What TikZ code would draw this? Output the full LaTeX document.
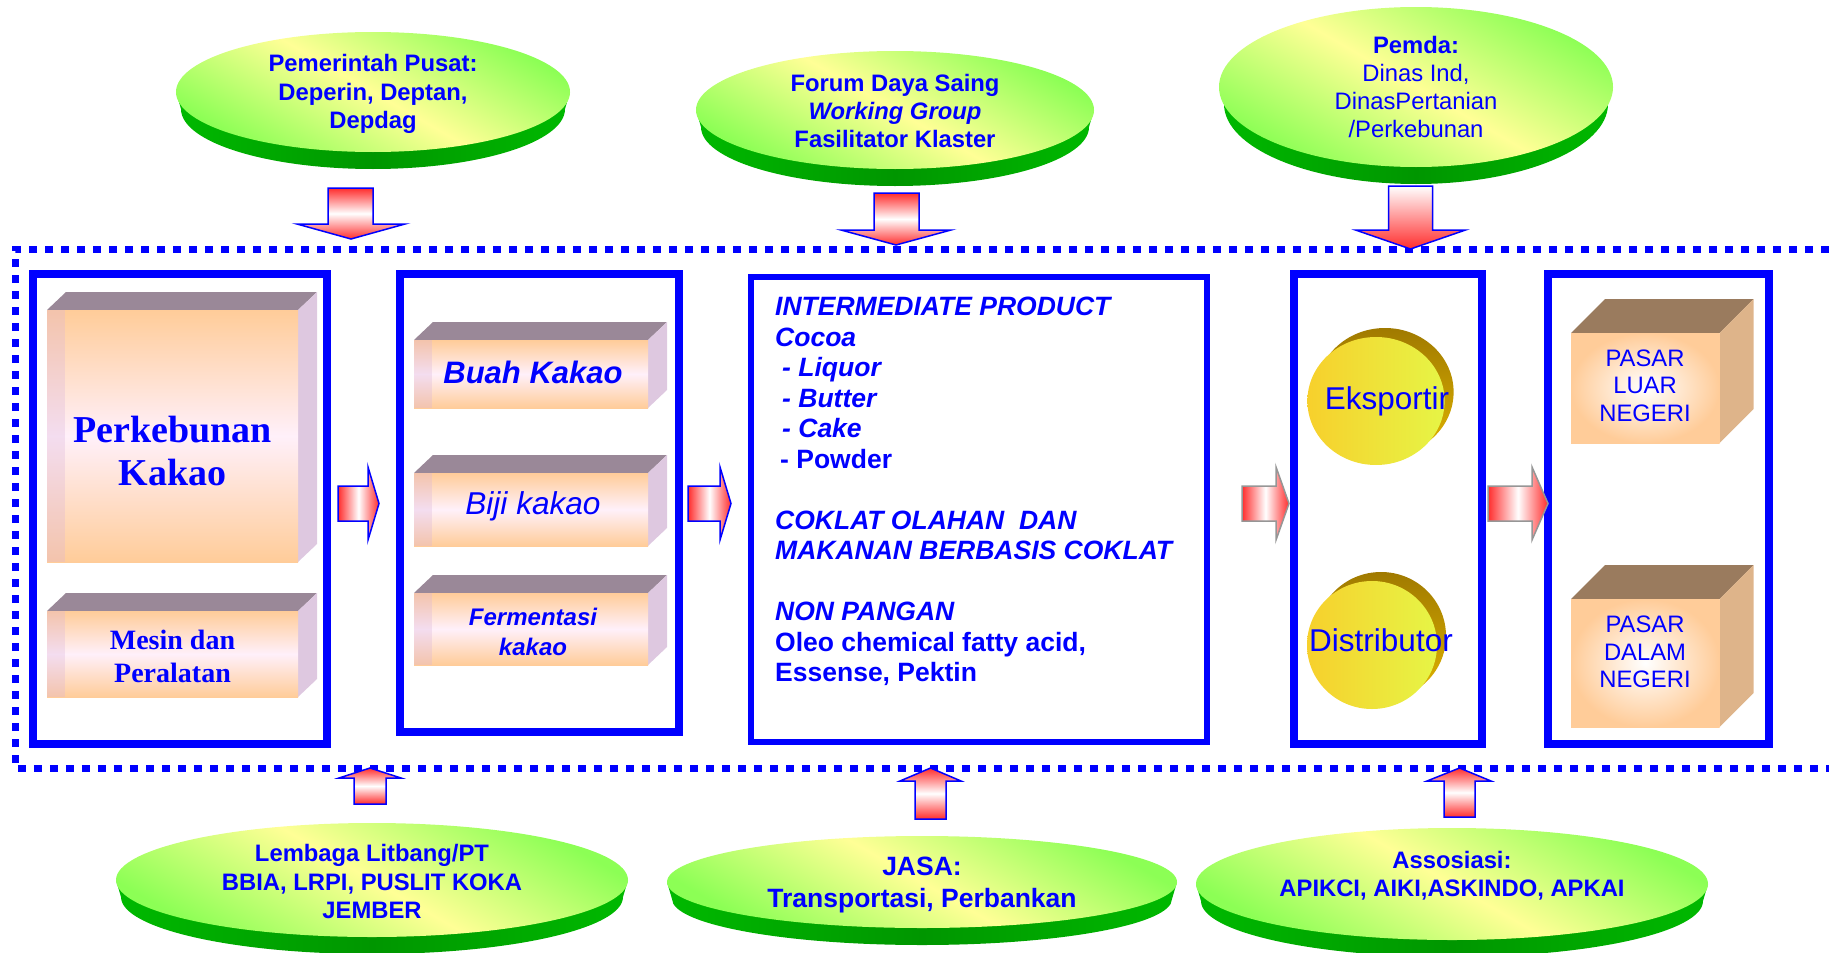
\documentclass[tikz,border=0pt]{standalone}
\usepackage{fontspec}
\setmainfont{Liberation Sans}
\newfontfamily\timesfont{Liberation Serif}
\definecolor{panah}{RGB}{255,45,45}
\definecolor{abu}{RGB}{150,150,150}
\definecolor{hijau}{RGB}{0,185,0}
\definecolor{hijaugelap}{RGB}{0,150,0}
\definecolor{kuning}{RGB}{255,255,150}
\definecolor{hijaumuda}{RGB}{140,255,85}
\definecolor{peach}{RGB}{255,204,153}
\definecolor{pinkputih}{RGB}{255,240,250}
\definecolor{atasblok}{RGB}{154,136,152}
\definecolor{sisiblok}{RGB}{222,200,224}
\definecolor{atasdus}{RGB}{154,123,94}
\definecolor{sisidus}{RGB}{222,180,138}
\definecolor{emas}{RGB}{160,122,0}
\definecolor{emasmuda}{RGB}{225,180,0}
\definecolor{koinkiri}{RGB}{247,208,44}
\definecolor{koinkanan}{RGB}{230,245,70}
\tikzset{
  teks/.style={text=blue, align=center, inner sep=0pt},
  tebal/.style={font=\bfseries\fontsize{23.8}{28.3}\selectfont},
  biasa/.style={font=\fontsize{23.8}{28.3}\selectfont},
  bingkai/.style={draw=blue, line width=8pt, inner sep=0pt},
  titik/.style={draw=blue, line width=7pt, dash pattern=on 8pt off 8pt},
  panahbiru/.style={draw=blue, line width=1.5pt},
  panahabu/.style={draw=abu, line width=1.5pt},
  sisihijau/.style={left color=hijau, right color=hijau, middle color=hijaugelap},
  ataship/.style={top color=hijaumuda, bottom color=hijaumuda, middle color=kuning, shading angle=-30}
}

\begin{document}
\begin{tikzpicture}[x=1pt,y=-1pt]
\useasboundingbox (0,0) rectangle (1829,953);
\clip (0,0) rectangle (1829,953);

% garis titik-titik
\draw [titik] (1845,249)--(15,249)--(15,768)--(1845,768);

% kotak
\node [bingkai, minimum width=294pt, minimum height=470pt] (kotak1) at (180,509) {};
\node [bingkai, minimum width=279pt, minimum height=458pt] (kotak2) at (539.5,503) {};
\node [bingkai, line width=6pt, minimum width=456pt, minimum height=465pt] (kotak3) at (979,509.5) {};
\node [bingkai, minimum width=188pt, minimum height=470pt] (kotak4) at (1388,509) {};
\node [bingkai, minimum width=221pt, minimum height=470pt] (kotak5) at (1658.5,509) {};

% balok
\foreach \xa/\ya/\xb/\yb in {47/310/298/562, 47/611/298/697, 414/340/648/408, 414/473/648/546, 414/593/648/665}
{
\fill [atasblok] (\xa,\ya)--({\xa+19},{\ya-18})--({\xb+19},{\ya-18})--(\xb,\ya)--cycle;
\fill [sisiblok] (\xb,\ya)--({\xb+19},{\ya-18})--({\xb+19},{\yb-18})--(\xb,\yb)--cycle;
\shade [top color=peach, bottom color=peach, middle color=pinkputih] (\xa,\ya) rectangle (\xb,\yb);
\fill [violet!30, opacity=0.3] (\xa,\ya) rectangle ({\xa+18},\yb);
}
\node [teks, font=\timesfont\bfseries\fontsize{38}{43.3}\selectfont] (kebun) at (172.5,451) {Perkebunan\\Kakao};
\node [teks, font=\timesfont\bfseries\fontsize{28}{33}\selectfont] (mesin) at (172.5,656.5) {Mesin dan\\Peralatan};
\node [teks, font=\bfseries\itshape\fontsize{31}{36}\selectfont] (buah) at (533,372) {Buah Kakao};
\node [teks, font=\itshape\fontsize{31.6}{36}\selectfont] (biji) at (533,506) {Biji kakao};
\node [teks, font=\bfseries\itshape\fontsize{24}{30}\selectfont] (fermentasi) at (533,632) {Fermentasi\\kakao};

% produk
\node [teks, align=left, anchor=north west, font=\bfseries\fontsize{26.5}{30.5}\selectfont] (produk) at (775,297)
{\textit{INTERMEDIATE PRODUCT}\\
\textit{Cocoa}\\
\hspace*{7pt}\textit{- Liquor}\\
\hspace*{7pt}\textit{- Butter}\\
\hspace*{7pt}\textit{- Cake}\\
\hspace*{5pt}- Powder\\[30.5pt]
\textit{COKLAT OLAHAN\ \ DAN}\\
\textit{MAKANAN BERBASIS COKLAT}\\[30.5pt]
\textit{NON PANGAN}\\
Oleo chemical fatty acid,\\
Essense, Pektin};

% koin
\foreach \cx/\cy/\rx in {1376/401/68.6, 1372/645/65}
{
\shade [top color=emas, bottom color=emasmuda] ({\cx+9},{\cy-9}) ellipse [x radius=\rx, y radius=64];
\shade [left color=koinkiri, right color=koinkanan] (\cx,\cy) ellipse [x radius=\rx, y radius=64];
}
\node [teks, font=\fontsize{31.5}{36}\selectfont] (eksportir) at (1387,401) {Eksportir};
\node [teks, font=\fontsize{31.5}{36}\selectfont] (distributor) at (1381,640) {Distributor};

% dus
\foreach \xa/\ya/\xb/\yb in {1571/333/1719.5/443, 1571/599/1719.5/727}
{
\fill [atasdus] (\xa,\ya)--({\xa+34},{\ya-34})--({\xb+34},{\ya-34})--(\xb,\ya)--cycle;
\fill [sisidus] (\xb,\ya)--({\xb+34},{\ya-34})--({\xb+34},{\yb-34})--(\xb,\yb)--cycle;
\shade [inner color=white, outer color=peach] (\xa,\ya) rectangle (\xb,\yb);
}
\node [teks, biasa, font=\fontsize{23.8}{27.5}\selectfont] (luar) at (1645,385.5) {PASAR\\LUAR\\NEGERI};
\node [teks, biasa, font=\fontsize{23.8}{27.5}\selectfont] (dalam) at (1645,652) {PASAR\\DALAM\\NEGERI};

% panah kanan
\foreach \xl/\xs/\xt/\gaya in {338/368/379/panahbiru, 688/720/731/panahbiru, 1242/1276/1289/panahabu, 1488/1532/1548/panahabu}
{
\draw [\gaya, left color=panah, right color=panah, middle color=white] (\xl,486)--(\xs,486)--(\xs,467)--(\xt,503.5)--(\xs,540)--(\xs,521)--(\xl,521)--cycle;
}

% panah bawah dan atas
\draw [panahbiru, top color=panah, bottom color=panah, middle color=white] (328,188)--(373,188)--(373,224)--(405,224)--(351,239)--(297,224)--(328,224)--cycle;
\draw [panahbiru, top color=panah, bottom color=panah, middle color=white] (874,193)--(919,193)--(919,230)--(951,230)--(896,245)--(841,230)--(874,230)--cycle;
\draw [panahbiru, top color=white, bottom color=panah] (1388.5,186)--(1432.5,186)--(1432.5,230)--(1465.5,230)--(1410.5,249)--(1355.5,230)--(1388.5,230)--cycle;
\draw [panahbiru, top color=panah, bottom color=panah, middle color=white] (354,804)--(386,804)--(386,778)--(401,778)--(370,768)--(339,778)--(354,778)--cycle;
\draw [panahbiru, top color=panah, bottom color=panah, middle color=white] (915,819)--(946,819)--(946,781)--(961,781)--(930.5,768)--(900,781)--(915,781)--cycle;
\draw [panahbiru, top color=panah, bottom color=panah, middle color=white] (1444,817)--(1475,817)--(1475,781)--(1491,781)--(1459.5,768)--(1427,781)--(1444,781)--cycle;

% cakram
\foreach \cx/\cy/\rx/\ry in {373/92/197/60, 895/110/199/59, 1416/87/197/80, 372/880/256/57, 922/882/255/46, 1452/884/256/56}
{
\shade [sisihijau] ({\cx-\rx},\cy)--({\cx-\rx+5},{\cy+17}) arc [start angle=180, end angle=0, x radius={\rx-5}, y radius=\ry]--({\cx+\rx},\cy)--cycle;
\shade [ataship] (\cx,\cy) ellipse [x radius=\rx, y radius=\ry];
}
\node [teks, tebal] (pusat) at (373,94) {Pemerintah Pusat:\\Deperin, Deptan,\\Depdag};
\node [teks, tebal] (forum) at (895,111) {Forum Daya Saing\\\textit{Working Group}\\Fasilitator Klaster};
\node [teks, biasa] (pemda) at (1416,87) {\textbf{Pemda:}\\Dinas Ind,\\DinasPertanian\\/Perkebunan};
\node [teks, tebal] (litbang) at (372,881.5) {Lembaga Litbang/PT\\BBIA, LRPI, PUSLIT KOKA\\JEMBER};
\node [teks, font=\bfseries\fontsize{26.5}{32}\selectfont] (jasa) at (922,885) {JASA:\\Transportasi, Perbankan};
\node [teks, tebal] (asosiasi) at (1452,875.5) {Assosiasi:\\APIKCI, AIKI,ASKINDO, APKAI};

\end{tikzpicture}
\end{document}
